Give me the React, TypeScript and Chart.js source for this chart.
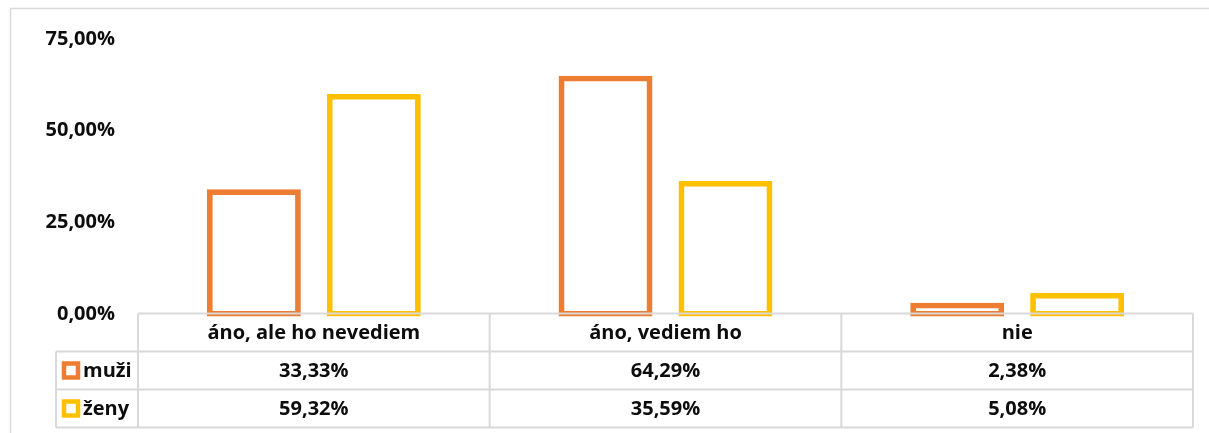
import React, { useEffect, useRef } from "react";
import { Chart, registerables } from "chart.js";

Chart.register(...registerables);

const categories = ["áno, ale ho nevediem", "áno, vediem ho", "nie"];
const seriesNames = ["muži", "ženy"];
const muzi = [33.33, 64.29, 2.38];
const zeny = [59.32, 35.59, 5.08];
const yTickValues = [0, 25, 50, 75];
const seriesColors = ["#ED7D31", "#FFC000"];

const FONT = "'Open Sans', 'Noto Sans', sans-serif";
const FONT_SIZE = 20;
const GRID = "#D9D9D9";
const TEXT = "#0D0D0D";

const fmt = (v: number) => v.toFixed(2).replace(".", ",") + "%";

const tablePlugin = {
  id: "dataTable",
  beforeDraw(chart: any) {
    const ctx = chart.ctx;
    ctx.save();
    ctx.strokeStyle = GRID;
    ctx.lineWidth = 1.5;
    ctx.strokeRect(10.5, 8.5, chart.width + 20, chart.height + 20);
    ctx.restore();
  },
  afterDatasetsDraw(chart: any) {
    const ctx = chart.ctx;
    const xs = chart.scales.x;
    const area = chart.chartArea;
    const n = categories.length;
    const colW = (area.right - area.left) / n;
    const top = area.bottom - 0.5;
    const rowH = 38;
    const leftX = 56;
    const series = [muzi, zeny];
    ctx.save();
    ctx.strokeStyle = GRID;
    ctx.lineWidth = 2;
    ctx.beginPath();
    ctx.moveTo(area.left, top);
    ctx.lineTo(area.right, top);
    for (let r = 1; r <= 3; r++) {
      ctx.moveTo(leftX, top + r * rowH);
      ctx.lineTo(area.right, top + r * rowH);
    }
    for (let c = 0; c <= n; c++) {
      const x = area.left + c * colW;
      ctx.moveTo(x, top);
      ctx.lineTo(x, top + 3 * rowH);
    }
    ctx.moveTo(leftX, top + rowH);
    ctx.lineTo(leftX, top + 3 * rowH);
    ctx.stroke();

    ctx.fillStyle = TEXT;
    ctx.font = `bold ${FONT_SIZE}px ${FONT}`;
    ctx.textAlign = "center";
    ctx.textBaseline = "middle";
    categories.forEach((cat, i) => {
      const cx = xs.getPixelForValue(i);
      ctx.fillText(cat, cx, top + rowH / 2 + 1);
      series.forEach((s, si) => {
        ctx.fillText(fmt(s[i]), cx, top + rowH * (si + 1) + rowH / 2 + 1);
      });
    });
    seriesNames.forEach((name, si) => {
      const cy = top + rowH * (si + 1) + rowH / 2;
      ctx.strokeStyle = seriesColors[si];
      ctx.lineWidth = 4.5;
      ctx.fillStyle = "#ffffff";
      ctx.fillRect(64, cy - 7, 14, 14);
      ctx.strokeRect(64, cy - 7, 14, 14);
      ctx.fillStyle = TEXT;
      ctx.textAlign = "left";
      ctx.fillText(name, 83, cy + 1);
    });
    ctx.restore();
  },
};

export default function App() {
  const ref = useRef<HTMLCanvasElement | null>(null);
  useEffect(() => {
    if (!ref.current) return;
    const chart = new Chart(ref.current, {
      type: "bar",
      data: {
        labels: categories,
        datasets: [muzi, zeny].map((vals, i) => ({
          label: seriesNames[i],
          data: vals,
          backgroundColor: "rgba(0,0,0,0)",
          borderColor: seriesColors[i],
          borderWidth: 0.5,
          inflateAmount: 2.6,
          borderSkipped: false,
          categoryPercentage: 0.682,
          barPercentage: 0.74,
          clip: false,
        })),
      },
      options: {
        responsive: false,
        animation: false,
        layout: { padding: { top: 39, bottom: 119, left: 0, right: 16 } },
        plugins: {
          legend: { display: false },
          tooltip: { enabled: false },
        },
        scales: {
          x: { display: false, offset: true },
          y: {
            min: 0,
            max: 75,
            afterBuildTicks: (scale: any) => {
              scale.ticks = yTickValues.map((v) => ({ value: v }));
            },
            afterFit: (scale: any) => {
              scale.width = 138;
            },
            grid: { display: false, drawTicks: false },
            border: { display: false },
            ticks: {
              padding: 23,
              color: TEXT,
              font: { family: FONT, size: FONT_SIZE, weight: "bold" },
              callback: (v: any) => fmt(Number(v)),
            },
          },
        },
      },
      plugins: [tablePlugin],
    } as any);
    return () => chart.destroy();
  }, []);
  return (
    <div style={{ position: "absolute", left: 0, top: 0, width: 1209, height: 433, overflow: "hidden", background: "#fff" }}>
      <canvas ref={ref} width={1209} height={433} style={{ display: "block" }} />
    </div>
  );
}
